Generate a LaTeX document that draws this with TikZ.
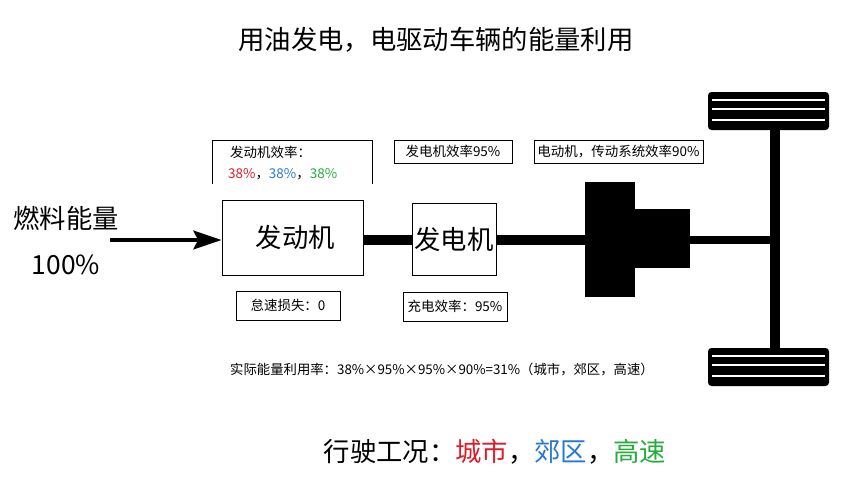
\documentclass[tikz,border=0pt]{standalone}
\usepackage{fontspec}
\setmainfont{Noto Sans CJK SC}
\usetikzlibrary{positioning,arrows.meta}
\definecolor{cred}{RGB}{220,30,40}
\definecolor{cblue}{RGB}{40,120,210}
\definecolor{cgreen}{RGB}{40,170,60}
\begin{document}
\begin{tikzpicture}[x=0.03cm,y=-0.03cm,
                    info box/.style={draw,thick,fill=white,font=\fontsize{11.5}{13}\selectfont,inner sep=0pt},
                    main box/.style={draw,thick,fill=white,inner sep=0pt,font=\fontsize{22.5}{26}\selectfont},
                    shaft/.style={line width=8.5pt},
                    tread/.style={white,line width=0.9pt}
                   ]
   \useasboundingbox (0,0) rectangle (852,479);
   \node (title) at (436,40) {\fontsize{22.5}{26}\selectfont 用油发电，电驱动车辆的能量利用};
   \node (fuel) at (66,218) {\fontsize{22.5}{26}\selectfont 燃料能量};
   \node (pct) at (66,265) {\fontsize{22.5}{26}\selectfont 100\%};
   % drive line
   \node[main box,minimum width=141*0.03cm,minimum height=75*0.03cm] (eng) at (292.5,237.5) {\ 发动机};
   \node[main box,minimum width=84*0.03cm,minimum height=72*0.03cm] (gen) at (454,239) {发电机};
   \coordinate (in) at (110,240);
   \draw[line width=3pt,-{Stealth[length=24pt,width=16pt,inset=4pt]}] (in) -- (eng.west |- in);
   \draw[shaft] (eng.east |- 0,240) -- (gen.west |- 0,240);
   \fill (585,182) rectangle (635,297);
   \fill (634,209) rectangle (690,268);
   \coordinate (mot) at (585,240);
   \coordinate (motr) at (690,240);
   \coordinate (axle) at (775,240);
   \draw[shaft] (gen.east |- 0,240) -- (mot);
   \draw[line width=6.5pt] (motr) -- (axle);
   \draw[line width=8pt] (775,128) -- (775,350);
   % wheels
   \foreach \y in {92,348} {
     \fill[rounded corners=3pt] (708,\y) rectangle (829,\y+38);
     \foreach \d in {8,17,28}
       \draw[tread] (712,\y+\d) -- (825,\y+\d);
   }
   % labels
   \draw[thick] (212,184) -- (212,140) -- (372,140) -- (372,184);
   \node[anchor=west,font=\fontsize{11.5}{13}\selectfont] (effa) at (226,152) {发动机效率：};
   \node[anchor=west,font=\fontsize{11.5}{13}\selectfont] (effb) at (224,174) {\textcolor{cred}{38\%}，\textcolor{cblue}{38\%}，\textcolor{cgreen}{38\%}};
   \node[info box,minimum width=118*0.03cm,minimum height=23*0.03cm] (geneff) at (453,151.5) {发电机效率95\%};
   \node[info box,minimum width=169*0.03cm,minimum height=23*0.03cm] (moteff) at (618.5,151.5) {电动机，传动系统效率90\%};
   \node[info box,minimum width=104*0.03cm,minimum height=29*0.03cm] (idle) at (288,305.5) {怠速损失：0};
   \node[info box,minimum width=104*0.03cm,minimum height=29*0.03cm] (charge) at (455,306.5) {充电效率：95\%};
   \node[font=\fontsize{11.4}{13}\selectfont] (calc) at (442,369) {实际能量利用率：38\%×95\%×95\%×90\%=31\%（城市，郊区，高速）};
   \node[font=\fontsize{22.5}{26}\selectfont] (mode) at (495,452) {行驶工况：\textcolor{cred}{城市}，\textcolor{cblue}{郊区}，\textcolor{cgreen}{高速}};
\end{tikzpicture}
\end{document}
